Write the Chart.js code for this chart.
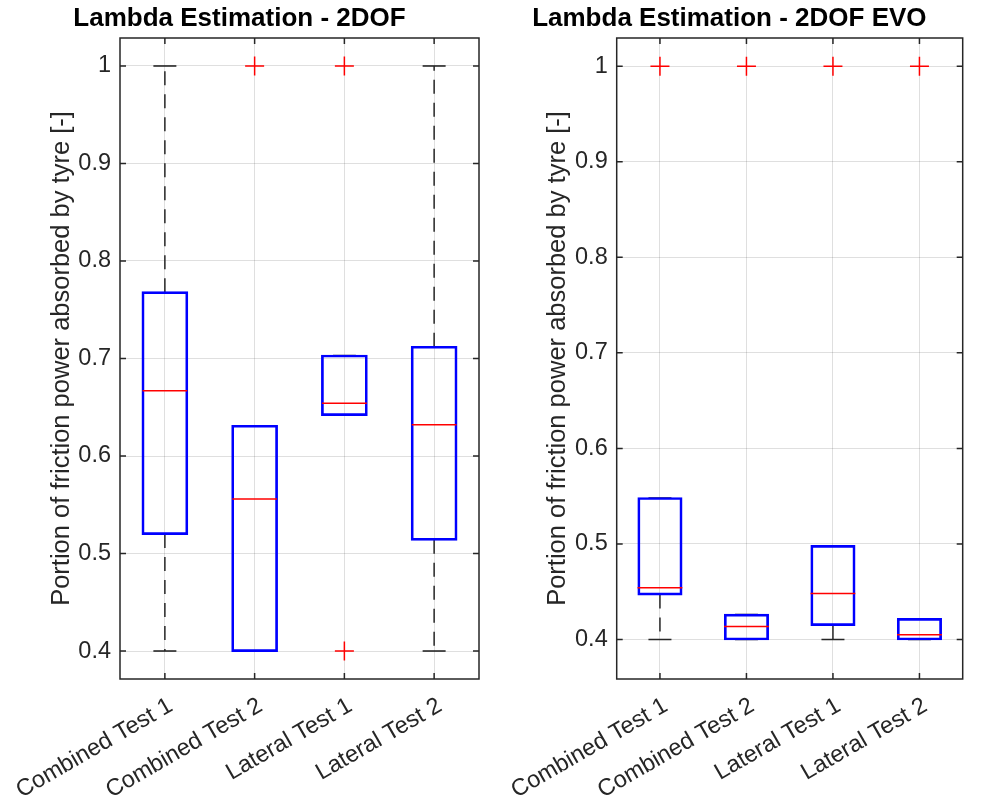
<!DOCTYPE html>
<html>
<head>
<meta charset="utf-8">
<title>Lambda Estimation</title>
<script src="https://cdn.jsdelivr.net/npm/chart.js@4/dist/chart.umd.min.js"></script>
<style>
  html, body { margin: 0; padding: 0; background: #ffffff; overflow: hidden; }
  #page { position: relative; width: 993px; height: 803px; overflow: hidden; }
  .panel { position: absolute; top: 0; }
</style>
</head>
<body>
<div id="page">
  <div class="panel" style="left:0px"><canvas id="chart2dof" width="599" height="803"></canvas></div>
  <div class="panel" style="left:496px"><canvas id="chartEvo" width="587" height="803"></canvas></div>
</div>
<script>
/* --- data --- */
const categories = ['Combined Test 1', 'Combined Test 2', 'Lateral Test 1', 'Lateral Test 2'];
const yTicks = [0.4, 0.5, 0.6, 0.7, 0.8, 0.9, 1];

// Lambda Estimation - 2DOF
const q1_2dof = [0.520, 0.400, 0.642, 0.514];
const median_2dof = [0.667, 0.556, 0.654, 0.632];
const q3_2dof = [0.768, 0.631, 0.703, 0.712];
const whiskerLow_2dof = [0.400, 0.400, 0.642, 0.400];
const whiskerHigh_2dof = [1.000, 0.631, 0.703, 1.000];
const outliers_2dof = [[], [1.0], [1.0, 0.4], []];

// Lambda Estimation - 2DOF EVO
const q1_evo = [0.447, 0.400, 0.415, 0.400];
const median_evo = [0.454, 0.4135, 0.448, 0.405];
const q3_evo = [0.548, 0.426, 0.498, 0.4215];
const whiskerLow_evo = [0.400, 0.400, 0.400, 0.400];
const whiskerHigh_evo = [0.548, 0.426, 0.498, 0.4215];
const outliers_evo = [[1.0], [1.0], [1.0], [1.0]];

const yLabel = 'Portion of friction power absorbed by tyre [-]';
const textColor = '#262626';

Chart.defaults.font.family = '"Liberation Sans", Arial, Helvetica, sans-serif';
Chart.defaults.color = textColor;

// closed axes box with inward ticks (MATLAB look)
const axesFrame = {
    id: 'axesFrame',
    afterDraw(chart) {
        const { ctx, chartArea: a, scales: { x, y } } = chart;
        ctx.save();
        ctx.strokeStyle = textColor;
        ctx.lineWidth = 1.5;
        ctx.strokeRect(a.left, a.top, a.width, a.height);
        ctx.beginPath();
        y.ticks.forEach(t => {
            const py = y.getPixelForValue(t.value);
            ctx.moveTo(a.left, py); ctx.lineTo(a.left + 6, py);
            ctx.moveTo(a.right, py); ctx.lineTo(a.right - 6, py);
        });
        x.ticks.forEach((t, i) => {
            const px = x.getPixelForTick(i);
            ctx.moveTo(px, a.bottom); ctx.lineTo(px, a.bottom - 6);
            ctx.moveTo(px, a.top); ctx.lineTo(px, a.top + 6);
        });
        ctx.stroke();
        ctx.restore();
    }
};

function makeBoxChart(id, title, q1, med, q3, wLow, wHigh, outl, yMin, yMax, yWidth, padRight) {
    // whisker segments: q3 -> upper, q1 -> lower, broken by null points
    const whiskerPts = [];
    categories.forEach((c, i) => {
        whiskerPts.push({ x: c, y: q3[i] }, { x: c, y: wHigh[i] }, { x: c, y: null });
        whiskerPts.push({ x: c, y: q1[i] }, { x: c, y: wLow[i] }, { x: c, y: null });
    });
    const outlierPts = [];
    outl.forEach((vals, i) => vals.forEach(v => outlierPts.push({ x: categories[i], y: v })));

    return new Chart(document.getElementById(id), {
        type: 'bar',
        data: {
            labels: categories,
            datasets: [
                {
                    type: 'line', data: whiskerPts, order: 4,
                    borderColor: textColor, borderWidth: 1.5, borderDash: [14, 9],
                    pointRadius: 0, spanGaps: false, fill: false
                },
                {
                    type: 'line', data: wLow, order: 3, showLine: false,
                    pointStyle: 'line', pointRadius: 11.5, pointBorderColor: textColor, pointBorderWidth: 1.6
                },
                {
                    type: 'line', data: wHigh, order: 3, showLine: false,
                    pointStyle: 'line', pointRadius: 11.5, pointBorderColor: textColor, pointBorderWidth: 1.6
                },
                {
                    // box: border centred on the quartile values
                    type: 'bar', data: q1.map((v, i) => [v, q3[i]]), order: 1,
                    backgroundColor: 'rgba(0,0,0,0)', borderColor: '#0000ff', borderWidth: 0.9,
                    inflateAmount: 0.9, borderSkipped: false, barPercentage: 0.5, categoryPercentage: 1
                },
                {
                    type: 'line', data: med, order: 0, showLine: false,
                    pointStyle: 'line', pointRadius: 22.4, pointBorderColor: '#ff0000', pointBorderWidth: 1.5
                },
                {
                    type: 'line', data: outlierPts, order: 0, showLine: false,
                    pointStyle: 'cross', pointRadius: 9.5, pointBorderColor: '#ff0000', pointBorderWidth: 1.5
                }
            ]
        },
        options: {
            responsive: false,
            animation: false,
            events: [],
            layout: { padding: { left: 0, right: padRight, top: 0, bottom: 0 } },
            plugins: {
                legend: { display: false },
                tooltip: { enabled: false },
                title: {
                    display: true, text: title, color: '#000000',
                    font: { size: 26, weight: 'bold' },
                    padding: { top: 3, bottom: 3.8 }
                }
            },
            scales: {
                x: {
                    offset: true,
                    grid: { offset: false, color: 'rgba(38,38,38,0.15)', drawTicks: false },
                    border: { display: false },
                    ticks: {
                        autoSkip: false, minRotation: 30, maxRotation: 30,
                        font: { size: 23.5 }, color: textColor, padding: 13, labelOffset: 6
                    },
                    afterFit(scale) { scale.height = 124; scale.paddingLeft = 0; scale.paddingRight = 0; }
                },
                y: {
                    type: 'linear', min: yMin, max: yMax,
                    grid: { color: 'rgba(38,38,38,0.15)', drawTicks: false },
                    border: { display: false },
                    afterBuildTicks(scale) { scale.ticks = yTicks.map(v => ({ value: v })); },
                    ticks: {
                        font: { size: 23.5 }, color: textColor, padding: 9,
                        callback: v => String(+v.toFixed(1))
                    },
                    title: {
                        display: true, text: yLabel, color: textColor,
                        font: { size: 25.5 }, padding: { top: 47, bottom: 0 }
                    },
                    afterFit(scale) { scale.width = yWidth; }
                }
            }
        },
        plugins: [axesFrame]
    });
}

makeBoxChart('chart2dof', 'Lambda Estimation - 2DOF',
    q1_2dof, median_2dof, q3_2dof, whiskerLow_2dof, whiskerHigh_2dof, outliers_2dof,
    0.3713, 1.0287, 120, 120);
makeBoxChart('chartEvo', 'Lambda Estimation - 2DOF EVO',
    q1_evo, median_evo, q3_evo, whiskerLow_evo, whiskerHigh_evo, outliers_evo,
    0.3586, 1.0296, 120.7, 120.3);
</script>
</body>
</html>
